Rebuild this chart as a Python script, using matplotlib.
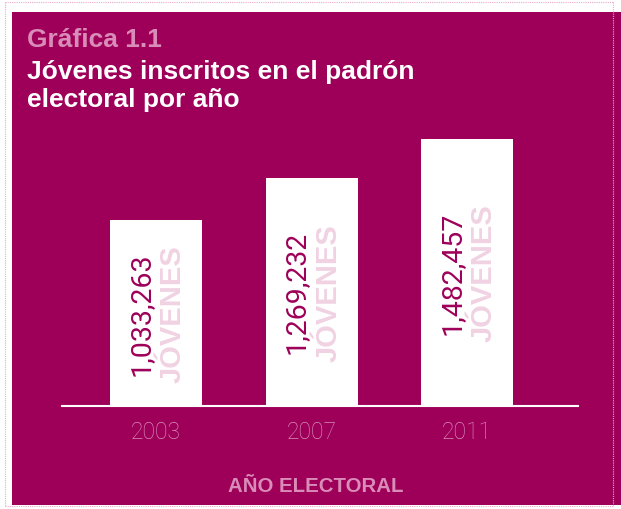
import matplotlib
matplotlib.use("Agg")
import matplotlib.pyplot as plt
from matplotlib.patches import Rectangle
from matplotlib.lines import Line2D

# ---- data ----
years = ["2003", "2007", "2011"]
jovenes = [1033263, 1269232, 1482457]
value_labels = ["1,033,263", "1,269,232", "1,482,457"]
unit_label = "JÓVENES"
title_kicker = "Gráfica 1.1"
title_lines = ["Jóvenes inscritos en el padrón", "electoral por año"]
xlabel = "AÑO ELECTORAL"

# ---- style ----
W, H = 621, 510
DPI = 100
PANEL = "#9E0059"
PINK = "#D98CB8"
LIGHTPINK = "#F0D2E2"
BORDER = "#EBA9CD"

fig = plt.figure(figsize=(W / DPI, H / DPI), dpi=DPI)
fig.patch.set_facecolor("white")

def fx(px):
    return px / W

def fy(py):
    return 1 - py / H

# magenta panel
fig.patches.append(Rectangle((fx(12), fy(506)), fx(621) - fx(12), fy(13) - fy(506),
                             transform=fig.transFigure, facecolor=PANEL,
                             edgecolor="none", zorder=-2))
# dotted border
for (x0, y0, x1, y1) in [(5, 3, 613, 3), (5, 3, 5, 507), (613, 3, 613, 507), (5, 507, 613, 507)]:
    fig.lines.append(Line2D([fx(x0), fx(x1)], [fy(y0), fy(y1)], transform=fig.transFigure,
                            color=BORDER, lw=0.8, linestyle=(0, (1, 1)), zorder=-1))

# axes: x 62..578 px, y 130..407 px
ax = fig.add_axes([fx(62), fy(407), fx(578) - fx(62), fy(130) - fy(407)])
ax.set_facecolor("none")
ax.set_zorder(1)
px_per_unit = 155.5
ax.set_xlim(-94 / px_per_unit, 2 + (516 - 405) / px_per_unit)
ax.set_ylim(0, 277 / 180.0 * 1e6)

x = list(range(len(years)))
ax.bar(x, jovenes, width=92 / px_per_unit, color="white", zorder=2)

for i, (v, lab) in enumerate(zip(jovenes, value_labels)):
    ax.text(i - 15 / px_per_unit, v / 2, lab, rotation=90, ha="center", va="center",
            color=PANEL, fontsize=20.5, family=["Roboto", "DejaVu Sans"], fontweight="normal",
            zorder=3)
    ax.text(i + 17 / px_per_unit, v / 2, unit_label, rotation=90, ha="center", va="center",
            color=LIGHTPINK, fontsize=21, family=["Liberation Sans", "DejaVu Sans"],
            fontweight="bold", zorder=3)

for s in ["top", "right", "left"]:
    ax.spines[s].set_visible(False)
ax.spines["bottom"].set_color("white")
ax.spines["bottom"].set_linewidth(1.5)
ax.spines["bottom"].set_zorder(4)
ax.set_yticks([])
ax.set_xticks(x)
ax.set_xticklabels(years, color=PINK, fontsize=16.5, family=["Roboto", "DejaVu Sans"],
                   fontweight="light")
ax.tick_params(axis="x", length=0, pad=10)

ax.set_xlabel(xlabel, color=PINK, fontsize=14.7, family=["Liberation Sans", "DejaVu Sans"],
              fontweight="bold")
ax.xaxis.set_label_coords((316 - 62) / 516, -(492 - 407) / 277)
ax.xaxis.label.set_va("baseline")

# titles
fig.text(fx(27), fy(47), title_kicker, color=PINK, fontsize=19,
         family=["Liberation Sans", "DejaVu Sans"], fontweight="bold", va="baseline")
for j, line in enumerate(title_lines):
    fig.text(fx(27), fy(79 + 28 * j), line, color="white", fontsize=19,
             family=["Liberation Sans", "DejaVu Sans"], fontweight="bold", va="baseline")

fig.savefig("out.png", dpi=DPI, facecolor="white")
